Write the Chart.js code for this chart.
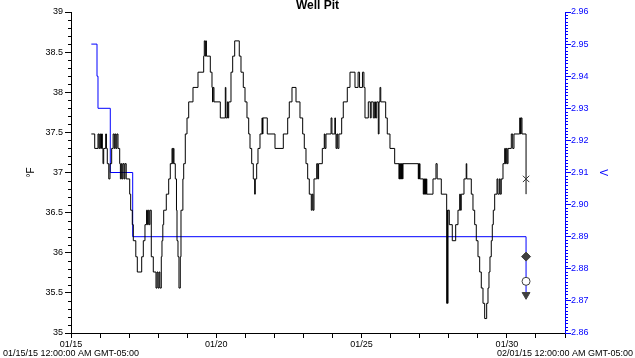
<!DOCTYPE html>
<html><head><meta charset="utf-8">
<script src="https://cdn.jsdelivr.net/npm/chart.js@4.4.1/dist/chart.umd.min.js"></script>
<style>html,body{margin:0;padding:0;background:#fff}</style>
</head><body>
<canvas id="c" width="635" height="358"></canvas>
<script>
const chartTitle = 'Well Pit';
const leftAxisTitle = '°F';
const rightAxisTitle = 'V';
const dateTickLabels = ['01/15','01/20','01/25','01/30'];
const rangeLabels = ['01/15/15 12:00:00 AM GMT-05:00','02/01/15 12:00:00 AM GMT-05:00'];

// days since 01/15/15 00:00
const tempDays = [0.70,0.816,0.929,0.96,0.99,1.02,1.05,1.08,1.101,1.125,1.194,1.22,1.249,1.30,1.342,1.40,1.45,1.49,1.52,1.55,1.58,1.617,1.676,1.70,1.731,1.76,1.79,1.83,1.858,1.90,2.020,2.054,2.109,2.144,2.230,2.282,2.433,2.488,2.546,2.60,2.63,2.66,2.69,2.719,2.763,2.832,2.925,2.96,2.994,3.03,3.06,3.107,3.131,3.160,3.190,3.279,3.362,3.417,3.476,3.50,3.52,3.544,3.589,3.630,3.648,3.682,3.716,3.761,3.785,3.85,3.878,3.933,3.992,4.050,4.198,4.370,4.566,4.587,4.62,4.64,4.66,4.794,4.852,4.87,4.89,4.92,5.138,5.310,5.33,5.38,5.40,5.427,5.506,5.564,5.633,5.791,5.850,5.929,5.988,6.056,6.115,6.160,6.218,6.273,6.32,6.342,6.390,6.435,6.504,6.573,6.59,6.607,6.755,7.020,7.306,7.457,7.512,7.605,7.743,7.88,7.973,8.028,8.087,8.145,8.200,8.269,8.30,8.33,8.362,8.455,8.49,8.52,8.648,8.716,8.74,8.775,8.95,8.98,9.08,9.10,9.12,9.15,9.18,9.22,9.315,9.370,9.508,9.601,9.773,9.88,9.93,10.03,10.08,10.117,10.231,10.30,10.33,10.403,10.45,10.48,10.520,10.575,10.60,10.633,10.66,10.829,10.884,10.977,11.139,11.287,11.30,11.31,11.33,11.345,11.36,11.375,11.39,11.41,11.425,11.951,11.965,11.98,11.995,12.01,12.034,12.123,12.14,12.155,12.17,12.185,12.20,12.215,12.23,12.245,12.457,12.56,12.60,12.743,12.928,12.95,12.96,12.973,13.018,13.121,13.238,13.317,13.376,13.40,13.43,13.524,13.60,13.62,13.775,13.833,13.892,13.947,14.006,14.064,14.119,14.178,14.236,14.305,14.350,14.384,14.418,14.463,14.498,14.532,14.580,14.66,14.69,14.74,14.77,14.807,14.866,14.924,14.95,14.98,15.01,15.04,15.152,15.20,15.244,15.441,15.47,15.49,15.520,15.66];
const tempValues = [37.48,37.30,37.48,37.30,37.48,37.30,37.48,37.30,37.11,37.30,37.48,37.30,37.11,36.92,37.11,37.30,37.48,37.30,37.48,37.30,37.48,37.30,37.11,36.92,37.11,36.92,37.11,36.92,37.11,36.92,36.73,36.53,36.35,36.15,35.95,35.76,35.95,36.15,36.35,36.53,36.35,36.53,36.35,36.53,35.95,35.76,35.56,35.76,35.56,35.76,35.56,35.95,36.15,36.35,36.53,36.73,36.92,37.11,37.30,37.11,37.30,37.11,36.92,36.53,36.15,35.95,35.56,35.95,36.53,36.92,37.11,37.48,37.68,37.88,38.06,38.25,38.45,38.64,38.45,38.64,38.45,38.25,38.06,37.88,38.06,37.88,37.68,38.06,37.68,37.88,37.68,37.88,38.25,38.45,38.64,38.45,38.25,38.06,37.88,37.68,37.48,37.30,37.11,36.92,36.73,36.92,37.11,37.30,37.48,37.68,37.48,37.68,37.48,37.30,37.48,37.68,37.88,38.06,37.88,37.68,37.48,37.30,37.11,36.92,36.73,36.53,36.73,36.53,36.92,37.11,36.92,37.11,37.30,37.48,37.30,37.48,37.68,37.48,37.68,37.48,37.30,37.48,37.30,37.48,37.68,37.88,38.06,38.25,38.06,38.25,38.06,38.25,38.06,37.68,37.88,37.68,37.88,37.68,37.88,37.68,37.88,37.48,37.88,38.06,37.88,37.68,37.48,37.30,37.11,36.92,37.11,36.92,37.11,36.92,37.11,36.92,37.11,36.92,37.11,36.92,37.11,36.92,37.11,36.92,36.92,36.73,36.92,36.73,36.92,36.73,36.92,36.73,36.92,36.73,36.92,37.11,36.92,36.73,35.37,36.53,35.37,36.53,36.35,36.15,36.35,36.53,36.73,36.53,36.73,36.92,37.11,36.92,36.73,36.53,36.35,36.15,35.95,35.76,35.56,35.37,35.18,35.37,35.56,35.76,35.95,36.15,36.35,36.53,36.73,36.92,36.73,36.92,36.73,36.92,37.11,37.30,37.11,37.30,37.11,37.30,37.48,37.30,37.48,37.68,37.48,37.68,37.48,36.73];

const voltDays = [0.70,0.895,0.929,1.352,2.123,15.66,15.66,15.66,15.66];
const voltValues = [2.95,2.94,2.93,2.91,2.89,2.89,2.8838,2.8761,2.8719];

const lastTempDay = [15.66];
const lastTempValue = [36.92];
const voltMarkerDays = [15.66,15.66,15.66];
const voltMarkerValues = [2.8838,2.8761,2.8719];

const pts = (xs, ys) => xs.map((x, i) => ({x, y: ys[i]}));

const minorTicks = {
  id: 'minorTicks',
  afterDraw(chart) {
    const ctx = chart.ctx, y = chart.scales.y, y2 = chart.scales.y2;
    ctx.save();
    ctx.lineWidth = 1;
    ctx.strokeStyle = '#000';
    ctx.beginPath();
    for (let i = 0; i <= 40; i++) {
      if (i % 5 === 0) continue;
      const p = Math.round(y.getPixelForValue(35 + i / 10)) + 0.5;
      ctx.moveTo(y.right - 3, p); ctx.lineTo(y.right, p);
    }
    ctx.stroke();
    ctx.strokeStyle = '#0000ff';
    ctx.beginPath();
    for (let i = 0; i <= 100; i++) {
      if (i % 10 === 0) continue;
      const p = Math.round(y2.getPixelForValue(2.86 + i / 1000)) + 0.5;
      ctx.moveTo(y2.left, p); ctx.lineTo(y2.left + 3, p);
    }
    ctx.stroke();
    ctx.restore();
  }
};

Chart.defaults.font.family = "'Liberation Sans', Arial, sans-serif";
Chart.defaults.font.size = 9;
Chart.defaults.color = '#000';

new Chart(document.getElementById('c'), {
  type: 'line',
  data: {
    datasets: [
      { data: pts(tempDays, tempValues), yAxisID: 'y', borderColor: '#000', borderWidth: 1, pointRadius: 0, stepped: 'before', fill: false, order: 2 },
      { data: pts(voltDays, voltValues), yAxisID: 'y2', borderColor: '#0000ff', borderWidth: 1, pointRadius: 0, stepped: 'before', fill: false, order: 3 },
      { data: pts(lastTempDay, lastTempValue), yAxisID: 'y', showLine: false, pointStyle: 'crossRot', pointRadius: 4.5, borderColor: '#333', borderWidth: 1, order: 1 },
      { data: pts(voltMarkerDays, voltMarkerValues), yAxisID: 'y2', showLine: false,
        pointStyle: ['rectRot','circle','triangle'], pointRotation: [0,0,180], pointRadius: [4.5,4,4.5],
        backgroundColor: ['#404040','#ffffff','#404040'], borderColor: '#404040', borderWidth: 1, order: 0 }
    ]
  },
  options: {
    responsive: false,
    animation: false,
    devicePixelRatio: 1,
    layout: { padding: 0 },
    plugins: {
      legend: { display: false },
      tooltip: { enabled: false },
      title: { display: true, text: chartTitle, color: '#000', font: { size: 12, weight: 'bold', lineHeight: 1 }, padding: { top: 0, bottom: 0 } }
    },
    scales: {
      x: {
        type: 'linear', position: 'bottom', min: 0, max: 17, weight: 0,
        grid: { drawOnChartArea: false, drawTicks: true, tickLength: 5, color: '#000', tickColor: '#000' },
        border: { display: true, color: '#000' },
        ticks: { stepSize: 1, autoSkip: false, maxRotation: 0, padding: 1, color: '#000',
          callback: v => (v % 5 === 0 && v / 5 < dateTickLabels.length) ? dateTickLabels[v / 5] : '' },
        afterFit: s => { s.height = 15; }
      },
      x2: {
        type: 'linear', position: 'bottom', min: 0, max: 17, weight: 1,
        grid: { display: false, drawTicks: false },
        border: { display: false },
        afterBuildTicks: s => { s.ticks = [{ value: 0 }, { value: 17 }]; },
        ticks: { autoSkip: false, maxRotation: 0, padding: 0, color: '#000',
          callback: (v, i) => rangeLabels[i] },
        afterFit: s => { s.height = 10; }
      },
      y: {
        type: 'linear', position: 'left', min: 35, max: 39,
        grid: { drawOnChartArea: false, tickLength: 6, color: '#000', tickColor: '#000' },
        border: { display: true, color: '#000' },
        ticks: { stepSize: 0.5, autoSkip: false, padding: 2, color: '#000', callback: v => String(v) },
        title: { display: true, text: leftAxisTitle, color: '#000', font: { size: 10 }, padding: { top: 25, bottom: 0 } },
        afterFit: s => { s.width = 71; }
      },
      y2: {
        type: 'linear', position: 'right', min: 2.86, max: 2.96,
        grid: { drawOnChartArea: false, tickLength: 6, color: '#0000ff', tickColor: '#0000ff' },
        border: { display: true, color: '#0000ff' },
        ticks: { stepSize: 0.01, autoSkip: false, padding: 0, color: '#0000ff', callback: v => v.toFixed(2) },
        title: { display: true, text: rightAxisTitle, color: '#0000ff', font: { size: 10 }, padding: { top: 26, bottom: 0 } },
        afterFit: s => { s.width = 70; }
      }
    }
  },
  plugins: [minorTicks]
});
</script>
</body></html>
